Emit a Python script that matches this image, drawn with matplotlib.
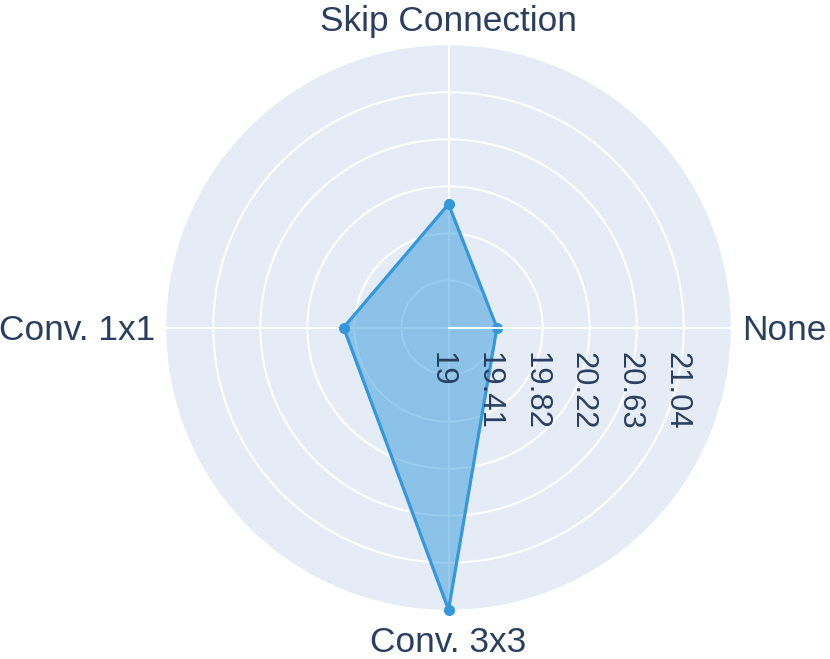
import numpy as np
import matplotlib
matplotlib.use('Agg')
from matplotlib import pyplot as plt
from matplotlib import transforms

# data
categories = ['None', 'Skip Connection', 'Conv. 1x1', 'Conv. 3x3']
values = [19.42, 20.07, 19.91, 21.448]
tick_vals = [19.0, 19.408, 19.816, 20.224, 20.632, 21.04]
tick_text = ['19', '19.41', '19.82', '20.22', '20.63', '21.04']
r_min, r_max = 19.0, 21.448

text_color = '#2a3f5f'
line_color = '#3498db'
plt.rcParams['font.family'] = ['Liberation Sans', 'DejaVu Sans']

fig = plt.figure(figsize=(8.3, 6.59), dpi=100)
ax = fig.add_axes([0.2003, 0.0746, 0.6802, 0.8568], projection='polar')
ax.set_facecolor('#E5ECF6')
ax.spines['polar'].set_visible(False)

angles = np.deg2rad([0, 90, 180, 270])
ax.set_ylim(r_min, r_max)
ax.set_rgrids(tick_vals[1:], labels=[''] * (len(tick_vals) - 1))
ax.set_thetagrids([0, 90, 180, 270], labels=[''] * 4)
ax.grid(True, color='white', linewidth=1.5)
ax.set_axisbelow(True)

th = np.append(angles, angles[0])
rv = np.append(values, values[0])
ax.fill(th, rv, color=line_color, alpha=0.5, linewidth=0, zorder=2)
ax.plot(th, rv, color=line_color, linewidth=2.3, zorder=3)
ax.plot(angles, values, 'o', color=line_color, markersize=7, zorder=4, clip_on=False)

# radial axis line drawn above the trace
ax.plot([0, 0], [r_min, r_max], color='white', linewidth=1.5, zorder=5)

# radial tick labels
for v, t in zip(tick_vals, tick_text):
    tr = transforms.offset_copy(ax.transData, fig=fig, x=-7, y=-24, units='dots')
    ax.text(0, v, t, transform=tr, rotation=-90, ha='center', va='top',
            fontsize=22.3, color=text_color, zorder=6)

# angular labels
offsets = [(11, -3, 'left', 'center'), (0, 7, 'center', 'bottom'),
           (-11, -3, 'right', 'center'), (0, -16, 'center', 'top')]
for a, c, (dx, dy, ha, va) in zip(angles, categories, offsets):
    tr = transforms.offset_copy(ax.transData, fig=fig, x=dx, y=dy, units='dots')
    ax.text(a, r_max, c, transform=tr, ha=ha, va=va, fontsize=25.4, color=text_color)

fig.savefig('out.png', dpi=100, facecolor='white')
